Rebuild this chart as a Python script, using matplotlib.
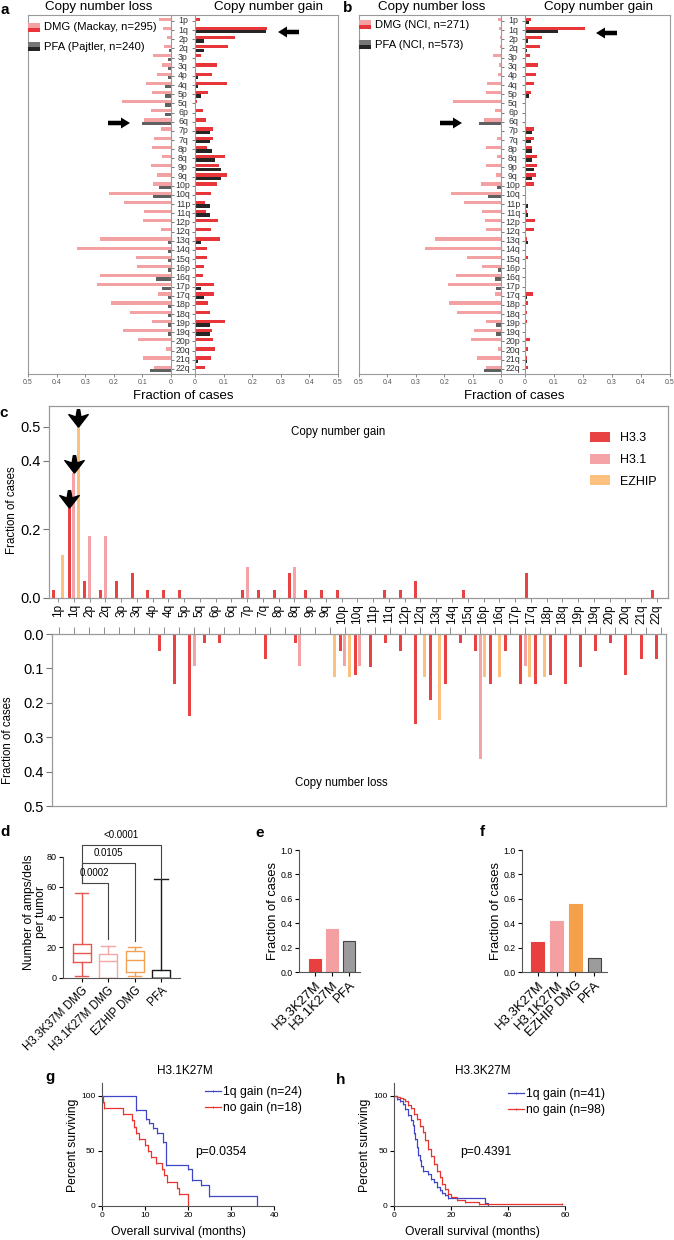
import numpy as np
import matplotlib
matplotlib.use("Agg")
import matplotlib.pyplot as plt
from matplotlib.path import Path
from matplotlib.patches import Rectangle, FancyArrow
from matplotlib.transforms import blended_transform_factory, offset_copy

plt.rcParams["font.family"] = ["Liberation Sans", "DejaVu Sans"]

# ---------------- data ----------------
arms = ["1p", "1q", "2p", "2q", "3p", "3q", "4p", "4q", "5p", "5q", "6p", "6q",
        "7p", "7q", "8p", "8q", "9p", "9q", "10p", "10q", "11p", "11q", "12p", "12q",
        "13q", "14q", "15q", "16p", "16q", "17p", "17q", "18p", "18q", "19p", "19q",
        "20p", "20q", "21q", "22q"]

# panel a (Mackay DMG / Pajtler PFA)
a_dmg_loss = [0.041, 0.027, 0.015, 0.024, 0.063, 0.031, 0.049, 0.088, 0.066, 0.172,
              0.070, 0.095, 0.035, 0.059, 0.066, 0.031, 0.070, 0.049, 0.063, 0.216,
              0.166, 0.095, 0.099, 0.035, 0.25, 0.33, 0.122, 0.119, 0.25, 0.257,
              0.045, 0.209, 0.143, 0.066, 0.169, 0.115, 0.017, 0.099, 0.058]
a_pfa_loss = [0, 0, 0, 0.007, 0.012, 0.012, 0.012, 0.021, 0.021, 0.021,
              0.021, 0.101, 0, 0, 0, 0, 0, 0, 0.041, 0.062,
              0, 0, 0, 0, 0.012, 0.012, 0.012, 0.012, 0.051, 0.030,
              0.012, 0.012, 0.012, 0.012, 0.012, 0, 0, 0, 0.072]
a_dmg_gain = [0.017, 0.253, 0.14, 0.115, 0.022, 0.076, 0.06, 0.112, 0.044, 0.008,
              0.028, 0.038, 0.064, 0.064, 0.041, 0.106, 0.083, 0.112, 0.078, 0.055,
              0.034, 0.038, 0.081, 0.055, 0.088, 0.041, 0.041, 0.031, 0.028, 0.067,
              0.067, 0.044, 0.051, 0.106, 0.058, 0.062, 0.069, 0.055, 0.035]
a_pfa_gain = [0, 0.249, 0.03, 0.03, 0, 0, 0.012, 0.012, 0.021, 0,
              0, 0, 0.051, 0.051, 0.06, 0.071, 0.09, 0.09, 0, 0,
              0.051, 0.051, 0, 0, 0.021, 0, 0, 0, 0, 0.021,
              0.03, 0, 0, 0.051, 0.051, 0, 0, 0.009, 0]

# panel b (NCI)
b_dmg_loss = [0.009, 0.008, 0.004, 0.003, 0.028, 0.007, 0.01, 0.05, 0.054, 0.169,
              0.021, 0.061, 0, 0.014, 0.054, 0.014, 0.054, 0.018, 0.069, 0.176,
              0.131, 0.068, 0.057, 0.054, 0.231, 0.269, 0.12, 0.066, 0.157, 0.187,
              0.021, 0.183, 0.154, 0.054, 0.095, 0.106, 0.01, 0.083, 0.054]
b_pfa_loss = [0, 0, 0, 0, 0, 0, 0, 0, 0, 0,
              0, 0.077, 0, 0, 0, 0, 0, 0, 0.015, 0.045,
              0, 0, 0, 0, 0, 0, 0, 0.012, 0.021, 0.018,
              0, 0, 0, 0.019, 0.019, 0, 0, 0, 0.059]
b_dmg_gain = [0.022, 0.207, 0.059, 0.052, 0.016, 0.044, 0.038, 0.031, 0.02, 0.005,
              0, 0, 0.031, 0.031, 0.023, 0.041, 0.041, 0.038, 0.031, 0,
              0, 0.007, 0.033, 0.031, 0.007, 0, 0.011, 0, 0.005, 0.005,
              0.026, 0.011, 0.008, 0.006, 0.005, 0.016, 0.01, 0.008, 0.01]
b_pfa_gain = [0.014, 0.113, 0.011, 0.007, 0, 0.003, 0.003, 0.003, 0.015, 0.003,
              0, 0.003, 0.024, 0.022, 0.025, 0.025, 0.03, 0.023, 0, 0,
              0.011, 0.009, 0, 0, 0.011, 0.003, 0, 0, 0, 0,
              0.006, 0, 0, 0, 0, 0, 0, 0.007, 0]

# panel c, gains (one value per arm)
c_gain_h33 = [0.024, 0.263, 0.049, 0.024, 0.049, 0.073, 0.024, 0.024, 0.024, 0,
              0, 0, 0.024, 0.024, 0.024, 0.073, 0.024, 0.024, 0.024, 0,
              0, 0.024, 0.024, 0.049, 0, 0, 0.024, 0, 0, 0,
              0.073, 0, 0, 0, 0, 0, 0, 0, 0.024]
c_gain_h31 = [0, 0.364, 0.182, 0.182, 0, 0, 0, 0, 0, 0,
              0, 0, 0.091, 0, 0, 0.091, 0, 0, 0, 0,
              0, 0, 0, 0, 0, 0, 0, 0, 0, 0,
              0, 0, 0, 0, 0, 0, 0, 0, 0]
c_gain_ezhip = [0.125, 0.5, 0, 0, 0, 0, 0, 0, 0, 0,
                0, 0, 0, 0, 0, 0, 0, 0, 0, 0,
                0, 0, 0, 0, 0, 0, 0, 0, 0, 0,
                0, 0, 0, 0, 0, 0, 0, 0, 0]
# panel c, losses (the loss graph has 41 slots of its own)
c_loss_h33 = [0, 0, 0, 0, 0, 0, 0, 0.049, 0.144, 0.239,
              0.025, 0.025, 0, 0, 0.073, 0, 0.025, 0, 0, 0.049,
              0.12, 0.097, 0.025, 0.049, 0.263, 0.192, 0.144, 0.025, 0.049, 0.144,
              0.049, 0.144, 0.144, 0.12, 0.144, 0.097, 0.049, 0.025, 0.12, 0.073,
              0.073]
c_loss_h31 = [0, 0, 0, 0, 0, 0, 0, 0, 0, 0.093,
              0, 0, 0, 0, 0, 0, 0.093, 0, 0, 0.093,
              0.093, 0, 0, 0, 0, 0, 0, 0, 0.363, 0,
              0, 0.093, 0, 0, 0, 0, 0, 0, 0, 0,
              0]
c_loss_ezhip = [0, 0, 0, 0, 0, 0, 0, 0, 0, 0,
                0, 0, 0, 0, 0, 0, 0, 0, 0.126, 0.126,
                0, 0, 0, 0, 0.126, 0.25, 0, 0, 0.126, 0.126,
                0, 0.126, 0.126, 0, 0, 0, 0, 0, 0, 0,
                0]

# panel d, box summaries
d_groups = ["H3.3K37M DMG", "H3.1K27M DMG", "EZHIP DMG", "PFA"]
d_whislo = [1, 0, 1, 0]
d_q1 = [10.5, 0, 3.5, 0]
d_med = [16.5, 11, 12, 0]
d_q3 = [22, 16, 17.5, 5]
d_whishi = [56, 21, 20, 65]
d_pvals = ["0.0002", "0.0105", "<0.0001"]

# panels e, f
e_groups = ["H3.3K27M", "H3.1K27M", "PFA"]
e_vals = [0.107, 0.354, 0.258]
f_groups = ["H3.3K27M", "H3.1K27M", "EZHIP DMG", "PFA"]
f_vals = [0.244, 0.42, 0.56, 0.113]

# panels g, h: survival curves
g_gain_t = [0, 8, 10.3, 11, 12, 12.8, 14.3, 15, 20, 21, 23, 25, 36]
g_gain_s = [100, 87.5, 79.2, 75, 70.8, 66.7, 58.3, 37.5, 33.3, 23.5, 18.7, 9.4, 0]
g_no_t = [0, 0.2, 0.6, 5, 7, 7.5, 8, 8.6, 10, 10.8, 11.5, 12.5, 14, 14.5, 15.2, 17.5, 18, 20]
g_no_s = [100, 94.4, 88.9, 83.3, 77.8, 72.2, 66.7, 61.1, 55.6, 50, 44.4, 38.9, 33.3, 27.8, 22.2, 16.7, 11.1, 0]
h_gain_t = [0, 1, 2, 3, 4, 5, 6, 6.5, 7, 7.5, 8, 8.5, 9, 9.5, 10, 12, 13, 14, 15, 16, 17, 18, 19, 32, 33]
h_gain_s = [100, 97.6, 95.1, 92.7, 87.8, 82.9, 78, 73.2, 65.9, 61, 53.7, 46.3, 41.5, 36.6, 31.7,
            29.3, 24.4, 22, 17.1, 14.6, 12.2, 9.8, 7.3, 2.4, 0]
h_no_t = [0, 1, 2, 3, 4, 5, 6, 7, 8, 9, 10, 11, 12, 13, 14, 15, 16, 17, 18, 19, 20, 22, 25, 30, 59]
h_no_s = [100, 99, 98, 97, 95, 92, 89, 84, 79, 73, 67, 60, 52, 45, 38, 32, 26, 20, 15, 11, 8, 5, 4, 1.5, 1.5]

# ---------------- figure ----------------
W, H = 674, 1240
fig = plt.figure(figsize=(W / 100, H / 100), dpi=100)


def add_ax(x0, y0, x1, y1):
    return fig.add_axes([x0 / W, 1 - y1 / H, (x1 - x0) / W, (y1 - y0) / H])


def ftext(x, y, s, **kw):
    return fig.text(x / W, 1 - y / H, s, **kw)


ov = add_ax(0, 0, W, H)
ov.set_xlim(0, W)
ov.set_ylim(H, 0)
ov.axis("off")
ov.set_zorder(20)

PINK_A, RED_A, GRAY_A, DARK_A = "#F4A1A4", "#E8353A", "#606060", "#262626"
FRAME = "#9a9a9a"


def cnv_panel(x0, xl, xr, x1, dmg_loss, pfa_loss, dmg_gain, pfa_gain):
    top, bot = 15, 374
    frame = add_ax(x0, top, x1, bot)
    frame.set_xticks([])
    frame.set_yticks([])
    frame.patch.set_alpha(0)
    for s in frame.spines.values():
        s.set_color(FRAME)
        s.set_linewidth(0.8)
    y = np.arange(len(arms))
    axl = add_ax(x0, top, xl, bot)
    axr = add_ax(xr, top, x1, bot)
    for ax in (axl, axr):
        ax.set_ylim(len(arms) - 0.45, -0.65)
        ax.patch.set_alpha(0)
        for s in ax.spines.values():
            s.set_visible(False)
        ax.set_yticks(y)
        ax.set_yticklabels([])
        ax.tick_params(axis="y", length=2.5, width=0.6, color="#666")
        ax.tick_params(axis="x", length=2, width=0.6, color="#777", labelsize=5,
                       labelcolor="#555", pad=1.5)
        ax.set_xticks(np.arange(0, 0.51, 0.1))
    axl.set_xlim(0.5, 0)
    axr.set_xlim(0, 0.5)
    axl.set_xticklabels(["0", "0.1", "0.2", "0.3", "0.4", "0.5"])
    axr.set_xticklabels(["0", "0.1", "0.2", "0.3", "0.4", "0.5"])
    axl.barh(y - 0.19, dmg_loss, height=0.36, color=PINK_A)
    axl.barh(y + 0.19, pfa_loss, height=0.36, color=GRAY_A)
    axr.barh(y - 0.19, dmg_gain, height=0.36, color=RED_A)
    axr.barh(y + 0.19, pfa_gain, height=0.36, color=DARK_A)
    axl.spines["right"].set_visible(True)
    axl.spines["right"].set_color(FRAME)
    axr.spines["left"].set_visible(True)
    axr.spines["left"].set_color(FRAME)
    axl.yaxis.tick_right()
    tr = blended_transform_factory(fig.transFigure, axl.transData)
    for i, name in enumerate(arms):
        fig.text((xl + xr) / 2 / W, i, name, transform=tr, ha="center", va="center",
                 fontsize=6.3, color="#333")
    cx = (x0 + x1) / 2
    ftext(cx, 396, "Fraction of cases", ha="center", va="center", fontsize=9.5)


cnv_panel(28, 171, 195, 338, a_dmg_loss, a_pfa_loss, a_dmg_gain, a_pfa_gain)
cnv_panel(359, 501, 525, 670, b_dmg_loss, b_pfa_loss, b_dmg_gain, b_pfa_gain)

for cx in (99, 432):
    ftext(cx, 7, "Copy number loss", ha="center", va="center", fontsize=9.6)
for cx in (268, 599):
    ftext(cx, 7, "Copy number gain", ha="center", va="center", fontsize=9.6)


def legend_patch(x, y, c1, c2, label):
    ov.add_patch(Rectangle((x, y), 12, 4.5, color=c1, lw=0))
    ov.add_patch(Rectangle((x, y + 4.5), 12, 4.5, color=c2, lw=0))
    ov.text(x + 16, y + 4.5, label, ha="left", va="center", fontsize=8.1)


legend_patch(28, 23, PINK_A, RED_A, "DMG (Mackay, n=295)")
legend_patch(28, 42, "#777777", DARK_A, "PFA (Pajtler, n=240)")
legend_patch(359, 20, PINK_A, RED_A, "DMG (NCI, n=271)")
legend_patch(359, 40, "#777777", DARK_A, "PFA (NCI, n=573)")


def block_arrow(x_tail, x_head, y):
    ov.add_patch(FancyArrow(x_tail, y, x_head - x_tail, 0, width=4.5, head_width=11,
                            head_length=9, length_includes_head=True, color="black", lw=0))


block_arrow(299, 278, 32)
block_arrow(108, 130, 123)
block_arrow(617, 596, 33)
block_arrow(440, 462, 123)

# ---------------- panel c ----------------
C_RED, C_PINK, C_ORANGE = "#E94243", "#F5A3A6", "#FDC17F"
axc = add_ax(49, 406, 668, 598)
xc = np.arange(len(arms))
bw = 0.19
b1 = axc.bar(xc - 0.29, c_gain_h33, bw, color=C_RED, label="H3.3")
b2 = axc.bar(xc, c_gain_h31, bw, color=C_PINK, label="H3.1")
b3 = axc.bar(xc + 0.29, c_gain_ezhip, bw, color=C_ORANGE, label="EZHIP")
axc.set_xlim(-0.571, 38.706)
axc.set_ylim(0, 0.56)
axc.set_yticks([0, 0.2, 0.4, 0.5])
axc.set_yticklabels(["0.0", "0.2", "0.4", "0.5"])
axc.set_xticks(xc)
axc.set_xticklabels(arms, rotation=90, fontsize=8.5)
axc.tick_params(axis="x", length=3, width=0.6, color="#777", pad=1.5)
axc.tick_params(axis="y", length=4, width=0.8, color="#777", labelsize=10.5, pad=2)
for s in axc.spines.values():
    s.set_color(FRAME)
    s.set_linewidth(0.9)
axc.legend(handles=[b1, b2, b3], loc="upper left", bbox_to_anchor=(590 / W, 1 - 432 / H),
           bbox_transform=fig.transFigure, frameon=False, fontsize=9, handlelength=1.6,
           handleheight=0.85, handletextpad=0.8, labelspacing=0.75, borderpad=0,
           borderaxespad=0)
ftext(338, 432, "Copy number gain", ha="center", va="center", fontsize=8.3)
ftext(12, 510, "Fraction of cases", ha="center", va="center", rotation=90, fontsize=8.3)

# black arrowheads over the 1q bars
head = Path([(0, -1), (-1, 0.3), (-0.25, 0.05), (-0.12, 0.8), (0.12, 0.8),
             (0.25, 0.05), (1, 0.3), (0, -1)])
tr_head = offset_copy(axc.transData, fig=fig, y=7, units="points")
i1q = arms.index("1q")
for off, vals in ((-0.29, c_gain_h33), (0, c_gain_h31), (0.29, c_gain_ezhip)):
    axc.plot(i1q + off, vals[i1q], marker=head, markersize=14, color="black",
             transform=tr_head, clip_on=False, zorder=5)

axd_ = add_ax(52, 634, 666, 806)
xj = np.arange(len(c_loss_h33))
axd_.bar(xj - 0.3, c_loss_h33, 0.2, color=C_RED)
axd_.bar(xj, c_loss_h31, 0.2, color=C_PINK)
axd_.bar(xj + 0.3, c_loss_ezhip, 0.2, color=C_ORANGE)
axd_.set_xlim(-0.465, 40.36)
axd_.set_ylim(0.5, 0)
axd_.xaxis.tick_top()
axd_.set_xticks(xj)
axd_.set_xticklabels([])
axd_.tick_params(axis="x", length=5, width=0.6, color="#777")
axd_.set_yticks(np.arange(0, 0.51, 0.1))
axd_.set_yticklabels(["0.0", "0.1", "0.2", "0.3", "0.4", "0.5"])
axd_.tick_params(axis="y", length=4, width=0.8, color="#777", labelsize=10.5, pad=2)
for s in axd_.spines.values():
    s.set_color(FRAME)
    s.set_linewidth(0.9)
ftext(341, 783, "Copy number loss", ha="center", va="center", fontsize=8.3)
ftext(8, 740, "Fraction of cases", ha="center", va="center", rotation=90, fontsize=8.3)

# ---------------- panel d ----------------
D_COLORS = ["#E8574F", "#F4A6A8", "#F2A154", "#1a1a1a"]
axd = add_ax(63, 856.7, 180, 977.7)
stats = []
for i in range(len(d_groups)):
    stats.append(dict(whislo=d_whislo[i], q1=d_q1[i], med=d_med[i], q3=d_q3[i],
                      whishi=d_whishi[i], fliers=[]))
pos = np.arange(1, len(d_groups) + 1)
bp = axd.bxp(stats, positions=pos, widths=0.68, capwidths=0.5, showfliers=False)
for i, c in enumerate(D_COLORS):
    bp["boxes"][i].set_color(c)
    bp["medians"][i].set_color(c)
    for k in (2 * i, 2 * i + 1):
        bp["whiskers"][k].set_color(c)
        bp["caps"][k].set_color(c)
for key in ("boxes", "medians", "whiskers", "caps"):
    for ln in bp[key]:
        ln.set_linewidth(1.0)
axd.set_xlim(0.295, 4.72)
axd.set_ylim(0, 80)
axd.set_yticks([0, 20, 40, 60, 80])
axd.set_xticks(pos)
axd.set_xticklabels(d_groups, rotation=45, ha="right", va="top", rotation_mode="anchor",
                    fontsize=8.3)
axd.tick_params(axis="y", labelsize=6.5, length=3, width=0.8, pad=1.5)
axd.tick_params(axis="x", length=3, width=0.8, pad=2)
for s in ("top", "right"):
    axd.spines[s].set_visible(False)
for s in ("left", "bottom"):
    axd.spines[s].set_color("#555")
ftext(35, 912, "Number of amps/dels\nper tumor", ha="center", va="center", rotation=90,
      fontsize=8.7, linespacing=1.1)
levels = [62.6, 75.6, 87.8]
for j, (lev, p) in enumerate(zip(levels, d_pvals)):
    xr = pos[j + 1]
    drop = d_whishi[j + 1] + (4.5 if j < 2 else 0.5)
    axd.plot([pos[0], pos[0], xr, xr], [levels[0], lev, lev, drop], color="#444", lw=0.8,
             clip_on=False)
    axd.text((pos[0] + xr) / 2, lev + 3.5, p, ha="center", va="bottom", fontsize=7)


# ---------------- panels e, f ----------------
def frac_panel(x0, x1, groups, vals, colors, edges, xlim, label_x):
    ax = add_ax(x0, 850, x1, 972)
    xs = np.arange(len(groups))
    ax.bar(xs, vals, 0.7, color=colors, edgecolor=edges, linewidth=0.8)
    ax.set_xlim(*xlim)
    ax.set_ylim(0, 1.0)
    ax.set_yticks(np.arange(0, 1.01, 0.2))
    ax.set_yticklabels(["0.0", "0.2", "0.4", "0.6", "0.8", "1.0"])
    ax.set_xticks(xs)
    ax.set_xticklabels(groups, rotation=45, ha="right", va="top", rotation_mode="anchor",
                       fontsize=9.5)
    ax.tick_params(axis="y", labelsize=6.3, length=3, width=0.8, pad=1.5)
    ax.tick_params(axis="x", length=3, width=0.8, pad=2)
    for s in ("top", "right"):
        ax.spines[s].set_visible(False)
    for s in ("left", "bottom"):
        ax.spines[s].set_color("#555")
    ftext(label_x, 911, "Fraction of cases", ha="center", va="center", rotation=90,
          fontsize=9.3)
    return ax


frac_panel(299, 360, e_groups, e_vals, ["#E8403F", "#F4A0A3", "#9C9C9C"],
           ["#E8403F", "#F4A0A3", "#444444"], (-0.94, 2.65), 273)
frac_panel(522, 607, f_groups, f_vals, ["#E8403F", "#F4A0A3", "#F5A04A", "#9C9C9C"],
           ["#E8403F", "#F4A0A3", "#F5A04A", "#444444"], (-0.83, 3.67), 496)

# ---------------- panels g, h ----------------
KM_BLUE, KM_RED = "#3E45C6", "#E8332E"


def km_panel(x0, x1, xmax, xticks, gt, gs, nt, ns, labels, title, tx, leg_x, leg_y,
             ptxt, px, label_x, ylab_x):
    ax = add_ax(x0, 1083, x1, 1206)
    l1, = ax.step(gt, gs, where="post", color=KM_BLUE, lw=0.9, marker="|", ms=2,
                  mew=0.6, label=labels[0])
    l2, = ax.step(nt, ns, where="post", color=KM_RED, lw=0.9, marker="|", ms=2,
                  mew=0.6, label=labels[1])
    ax.set_xlim(0, xmax)
    ax.set_ylim(0, 111.8)
    ax.set_xticks(xticks)
    ax.set_yticks([0, 50, 100])
    ax.tick_params(labelsize=6, length=3, width=0.8, pad=1.5)
    for s in ("top", "right"):
        ax.spines[s].set_visible(False)
    for s in ("left", "bottom"):
        ax.spines[s].set_color("#555")
    ax.legend(handles=[l1, l2], loc="center left", bbox_to_anchor=(leg_x / W, 1 - leg_y / H),
              bbox_transform=fig.transFigure, frameon=False, fontsize=8.7,
              handlelength=1.3, handletextpad=0.2, labelspacing=0.35, borderpad=0,
              borderaxespad=0)
    ftext(tx, 1071, title, ha="center", va="center", fontsize=8.5)
    ftext(px, 1152, ptxt, ha="left", va="center", fontsize=8.7)
    ftext(label_x, 1232, "Overall survival (months)", ha="center", va="center", fontsize=8.7)
    ftext(ylab_x, 1145, "Percent surviving", ha="center", va="center", rotation=90,
          fontsize=8.7)


km_panel(101.7, 274, 40, [0, 10, 20, 30, 40], g_gain_t, g_gain_s, g_no_t, g_no_s,
         ["1q gain (n=24)", "no gain (n=18)"], "H3.1K27M", 184.5, 205, 1100,
         "p=0.0354", 195, 178, 73)
km_panel(394, 565, 60, [0, 20, 40, 60], h_gain_t, h_gain_s, h_no_t, h_no_s,
         ["1q gain (n=41)", "no gain (n=98)"], "H3.3K27M", 483, 508, 1102,
         "p=0.4391", 460, 472, 365)

# panel letters
for lt, x, y in (("a", 5, 10), ("b", 348, 8), ("c", 4, 413), ("d", 5, 832),
                 ("e", 260, 833), ("f", 482, 832), ("g", 50, 1077), ("h", 341, 1080)):
    ftext(x, y, lt, ha="center", va="center", fontsize=11, fontweight="bold")

fig.savefig("out.png", dpi=100)
